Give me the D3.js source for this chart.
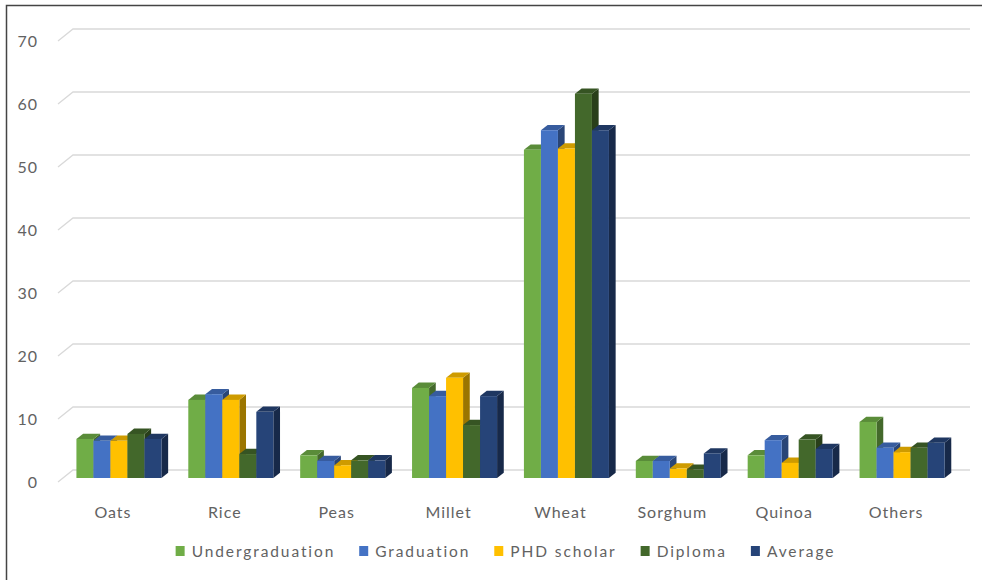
<!DOCTYPE html>
<html>
<head>
<meta charset="utf-8">
<script src="https://cdn.jsdelivr.net/npm/d3@7"></script>
<style>
  body { margin: 0; background: #fff; }
  svg text { font-family: Lato, 'Open Sans', sans-serif; fill: #626262; }
</style>
</head>
<body>
<svg id="chart" width="982" height="580"></svg>
<script>
var categories = ['Oats', 'Rice', 'Peas', 'Millet', 'Wheat', 'Sorghum', 'Quinoa', 'Others'];
var seriesNames = ['Undergraduation', 'Graduation', 'PHD scholar', 'Diploma', 'Average'];
var undergraduation = [6.2, 12.4, 3.6, 14.3, 52.1, 2.7, 3.6, 8.9];
var graduation      = [5.9, 13.3, 2.7, 13.0, 55.2, 2.7, 6.0, 4.8];
var phdScholar      = [5.9, 12.4, 2.0, 15.9, 52.3, 1.5, 2.4, 4.1];
var diploma         = [7.0, 3.8, 2.8, 8.4, 61.0, 1.3, 6.1, 4.8];
var average         = [6.2, 10.5, 2.8, 13.0, 55.2, 3.9, 4.6, 5.6];
var yTicks = [0, 10, 20, 30, 40, 50, 60, 70];
var colors = ['#70AD47', '#4472C4', '#FFC000', '#43682B', '#264478'];

var seriesValues = [undergraduation, graduation, phdScholar, diploma, average];

var svg = d3.select('#chart');

// frame (image is cropped on right/bottom)
svg.append('path')
    .attr('d', 'M6.5,580 V5.5 H982')
    .attr('fill', 'none')
    .attr('stroke', '#444')
    .attr('stroke-width', 1.5);

// front plane scales; bars sit a bit deeper, the wall deeper still
var front = { left: 58, right: 953 };
var barDepth = { dx: 5, dy: -4 };
var wallDepth = { dx: 15, dy: -12 };
var side = { dx: 6.7, dy: -5.3 };

var yScale = d3.scaleLinear()
                .domain([0, 70])
                .range([482, 41]);

var xScale = d3.scaleBand()
                .domain(categories)
                .range([front.left, front.right])
                .paddingInner(0.24)
                .paddingOuter(0.12);

var xInner = d3.scaleBand()
                .domain(seriesNames)
                .range([0, xScale.bandwidth()]);

// gridlines: short diagonal on the side wall then along the back wall
var grid = svg.append('g');
yTicks.forEach(function(t) {
    var y = yScale(t);
    grid.append('path')
        .attr('d', `M${front.left},${y} L${front.left + wallDepth.dx},${y + wallDepth.dy} L970,${y + wallDepth.dy}`)
        .attr('fill', 'none')
        .attr('stroke', '#d9d9d9')
        .attr('stroke-width', 1.3);
});

// y tick labels
svg.append('g')
    .selectAll('text')
    .data(yTicks)
    .enter()
    .append('text')
        .attr('x', 38)
        .attr('y', d => yScale(d))
        .attr('dy', '0.35em')
        .style('text-anchor', 'end')
        .style('font-size', '16px')
        .style('letter-spacing', '1px')
        .text(d => d);

// bars
var bars = [];
categories.forEach(function(c, ci) {
    seriesNames.forEach(function(s, si) {
        bars.push({ cat: c, series: s, si: si, value: seriesValues[si][ci] });
    });
});

var barG = svg.append('g');
bars.forEach(function(d) {
    var x0 = xScale(d.cat) + xInner(d.series) + barDepth.dx;
    var x1 = x0 + xInner.bandwidth();
    var yTop = yScale(d.value) + barDepth.dy;
    var yBot = yScale(0) + barDepth.dy;
    var col = d3.color(colors[d.si]);
    var g = barG.append('g');
    // side face
    g.append('path')
        .attr('d', `M${x1},${yBot} L${x1 + side.dx},${yBot + side.dy} L${x1 + side.dx},${yTop + side.dy} L${x1},${yTop} Z`)
        .attr('fill', col.darker(1.4));
    // top face
    g.append('path')
        .attr('d', `M${x0},${yTop} L${x0 + side.dx},${yTop + side.dy} L${x1 + side.dx},${yTop + side.dy} L${x1},${yTop} Z`)
        .attr('fill', col.darker(0.6));
    // front face
    g.append('rect')
        .attr('x', x0)
        .attr('y', yTop)
        .attr('width', xInner.bandwidth())
        .attr('height', yBot - yTop)
        .attr('fill', col);
});

// category labels
svg.append('g')
    .selectAll('text')
    .data(categories)
    .enter()
    .append('text')
        .attr('x', d => xScale(d) + xScale.bandwidth() / 2 - 1)
        .attr('y', 518)
        .style('text-anchor', 'middle')
        .style('font-size', '16px')
        .style('letter-spacing', '1px')
        .text(d => d);

// legend
var legend = svg.append('g');
var items = legend.selectAll('g')
                .data(seriesNames)
                .enter()
                .append('g');
items.append('rect')
    .attr('width', 9)
    .attr('height', 10)
    .attr('y', 546)
    .attr('fill', (d, i) => colors[i]);
items.append('text')
    .attr('x', 16)
    .attr('y', 557)
    .style('font-size', '15.5px')
    .style('letter-spacing', '1.9px')
    .text(d => d);

var xPos = 0;
var offsets = [];
items.each(function() {
    offsets.push(xPos);
    xPos += this.getBBox().width + 24;
});
var total = xPos - 24;
var startX = (front.left + front.right) / 2 - total / 2;
items.attr('transform', (d, i) => `translate(${startX + offsets[i]}, 0)`);
</script>
</body>
</html>
